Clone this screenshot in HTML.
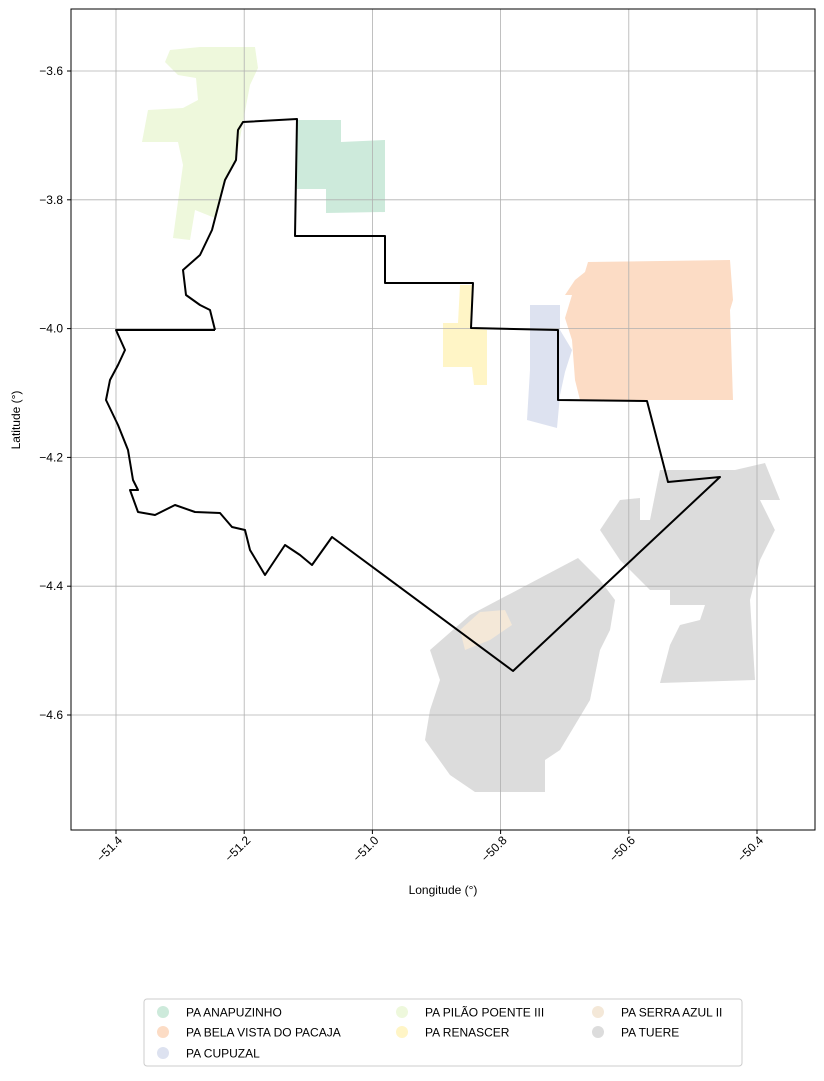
<!DOCTYPE html>
<html><head><meta charset="utf-8"><style>
body{margin:0;background:#fff;font-family:"Liberation Sans","DejaVu Sans",sans-serif}
svg text{font-family:"Liberation Sans","DejaVu Sans",sans-serif;font-size:12px;fill:#000}
</style></head><body>
<svg id="chart" width="824" height="1076" viewBox="0 0 824 1076" xmlns="http://www.w3.org/2000/svg">
<rect x="0" y="0" width="824" height="1076" fill="#fff"/>
<g id="fills"></g><g id="grid"></g><g id="lines"></g>
<rect x="71" y="9" width="744" height="821" fill="none" stroke="#000" stroke-width="1"/>
<g id="ticks"></g>
<text x="443" y="894" text-anchor="middle">Longitude (°)</text>
<text transform="translate(20,420) rotate(-90)" text-anchor="middle">Latitude (°)</text>
<g>
<rect x="144" y="999" width="598" height="67" rx="3" fill="#fff" stroke="#ccc"/>
<g id="legend"></g>
</g>
</svg>
<script>
const xTicks=[-51.4,-51.2,-51.0,-50.8,-50.6,-50.4];
const xTickLabels=["−51.4","−51.2","−51.0","−50.8","−50.6","−50.4"];
const yTicks=[-3.6,-3.8,-4.0,-4.2,-4.4,-4.6];
const yTickLabels=["−3.6","−3.8","−4.0","−4.2","−4.4","−4.6"];
const names=["PA ANAPUZINHO","PA BELA VISTA DO PACAJA","PA CUPUZAL","PA PILÃO POENTE III","PA RENASCER","PA SERRA AZUL II","PA TUERE"];
const colors=["#cdeadb","#fcdcc5","#dde2f0","#eef8dc","#fff5c6","#f4e8d8","#dcdcdc"];
const tuereA=[[-50.9101,-4.499],[-50.8477,-4.4447],[-50.6793,-4.3562],[-50.6449,-4.3904],[-50.6216,-4.4214],[-50.6293,-4.468],[-50.6449,-4.4991],[-50.6605,-4.5767],[-50.7073,-4.6543],[-50.7307,-4.6699],[-50.7307,-4.7196],[-50.8399,-4.7196],[-50.8789,-4.6932],[-50.9179,-4.6388],[-50.9101,-4.5922],[-50.8945,-4.5457]];
const tuereB=[[-50.6449,-4.3127],[-50.6137,-4.2662],[-50.5825,-4.2631],[-50.5825,-4.2972],[-50.5669,-4.2972],[-50.5513,-4.2196],[-50.4343,-4.2196],[-50.3875,-4.2087],[-50.3641,-4.2662],[-50.3953,-4.2662],[-50.372,-4.3127],[-50.3953,-4.3593],[-50.4109,-4.4214],[-50.4031,-4.5457],[-50.5513,-4.5503],[-50.5357,-4.4913],[-50.5201,-4.4602],[-50.4889,-4.4525],[-50.4811,-4.4292],[-50.5357,-4.4292],[-50.5357,-4.4059],[-50.5669,-4.4059],[-50.6137,-4.3593]];
const serraAzul=[[-50.8633,-4.468],[-50.8321,-4.4401],[-50.7932,-4.4369],[-50.7822,-4.4602],[-50.8166,-4.4835],[-50.8556,-4.499]];
const anapuzinho=[[-51.1176,-3.6761],[-51.049,-3.6761],[-51.049,-3.7102],[-50.9803,-3.7071],[-50.9803,-3.8189],[-51.0724,-3.8205],[-51.0724,-3.7832],[-51.1176,-3.7832]];
const pilao=[[-51.3158,-3.5674],[-51.269,-3.5627],[-51.1832,-3.5627],[-51.1785,-3.5953],[-51.191,-3.6217],[-51.2019,-3.6792],[-51.2128,-3.7382],[-51.23,-3.7693],[-51.2456,-3.8283],[-51.2768,-3.8158],[-51.2846,-3.8624],[-51.3111,-3.8593],[-51.2955,-3.746],[-51.3033,-3.7102],[-51.3594,-3.7102],[-51.3501,-3.6606],[-51.2955,-3.6575],[-51.2721,-3.645],[-51.2752,-3.6109],[-51.3033,-3.6062],[-51.3236,-3.586]];
const renascer=[[-50.8633,-3.9323],[-50.8431,-3.9323],[-50.8462,-3.9991],[-50.8212,-4.0022],[-50.8212,-4.0876],[-50.8415,-4.0876],[-50.8446,-4.0596],[-50.8899,-4.0596],[-50.8899,-3.9913],[-50.8665,-3.9913]];
const cupuzal=[[-50.7541,-3.9634],[-50.7074,-3.9634],[-50.7074,-4.0022],[-50.6886,-4.0332],[-50.6995,-4.0674],[-50.7074,-4.1031],[-50.712,-4.1544],[-50.7588,-4.1419],[-50.7541,-4.0643]];
const belaVista=[[-50.6637,-3.8966],[-50.4421,-3.8935],[-50.4374,-3.9556],[-50.4421,-3.9711],[-50.4374,-4.1109],[-50.6761,-4.1109],[-50.6839,-4.0798],[-50.6886,-4.0177],[-50.6995,-3.9835],[-50.6886,-3.9478],[-50.6995,-3.9478],[-50.6839,-3.9245],[-50.6683,-3.9121]];
const boundary=[[-51.2456,-4.0022],[-51.4,-4.0022],[-51.386,-4.0332],[-51.3969,-4.0565],[-51.4094,-4.0798],[-51.4156,-4.1109],[-51.3969,-4.1497],[-51.3813,-4.1885],[-51.3735,-4.2351],[-51.3657,-4.2506],[-51.3782,-4.2506],[-51.3657,-4.2848],[-51.3392,-4.2894],[-51.308,-4.2739],[-51.2768,-4.2848],[-51.2378,-4.2863],[-51.219,-4.3081],[-51.1988,-4.3127],[-51.191,-4.3438],[-51.1676,-4.3826],[-51.1364,-4.336],[-51.1129,-4.3516],[-51.0942,-4.3671],[-51.063,-4.3236],[-50.7807,-4.5317],[-50.4577,-4.2304],[-50.5389,-4.2382],[-50.5716,-4.1124],[-50.7105,-4.1109],[-50.7105,-4.0022],[-50.8462,-3.9991],[-50.8431,-3.9292],[-50.9803,-3.9292],[-50.9803,-3.8562],[-51.1208,-3.8562],[-51.1176,-3.6745],[-51.2019,-3.6792],[-51.2097,-3.6916],[-51.2128,-3.7382],[-51.23,-3.7693],[-51.2502,-3.8469],[-51.269,-3.8857],[-51.2955,-3.909],[-51.2908,-3.9478],[-51.269,-3.9634],[-51.2534,-3.9711],[-51.2456,-4.0022]];

const NS="http://www.w3.org/2000/svg";
function xs(lon){return 116+(lon+51.4)*641;}
function ys(lat){return 71+(-3.6-lat)*644;}
function pts(a){return a.map(p=>xs(p[0]).toFixed(1)+","+ys(p[1]).toFixed(1)).join(" ");}
function mk(tag,attrs,parent){const e=document.createElementNS(NS,tag);for(const k in attrs)e.setAttribute(k,attrs[k]);parent.appendChild(e);return e;}
const fills=document.getElementById('fills');
const polys=[[tuereA,6,'tuere-west'],[tuereB,6,'tuere-east'],[serraAzul,5,'serra-azul-ii'],[anapuzinho,0,'anapuzinho'],[pilao,3,'pilao-poente-iii'],[renascer,4,'renascer'],[cupuzal,2,'cupuzal'],[belaVista,1,'bela-vista-do-pacaja']];
polys.forEach(p=>{
  const e=mk('polygon',{points:pts(p[0]),fill:colors[p[1]]},fills);
  
  
});
const grid=document.getElementById('grid'),ticks=document.getElementById('ticks');
xTicks.forEach((v,i)=>{
  const x=xs(v);
  const g=mk('line',{x1:x,x2:x,y1:9,y2:830,stroke:'#b0b0b0','stroke-width':0.8},grid);
  
  
  mk('line',{x1:x,x2:x,y1:830,y2:834,stroke:'#000'},ticks);
  const t=mk('text',{transform:`translate(${x+7},${841}) rotate(-45)`,'text-anchor':'end'},ticks);
  t.textContent=xTickLabels[i];
  
  
});
yTicks.forEach((v,i)=>{
  const y=ys(v);
  const g=mk('line',{x1:71,x2:815,y1:y,y2:y,stroke:'#b0b0b0','stroke-width':0.8},grid);
  
  
  mk('line',{x1:67,x2:71,y1:y,y2:y,stroke:'#000'},ticks);
  const t=mk('text',{x:63,y:y+4,'text-anchor':'end'},ticks);
  t.textContent=yTickLabels[i];
  
  
});
const b=mk('polyline',{points:pts(boundary),fill:'none',stroke:'#000','stroke-width':2,'stroke-linejoin':'round'},document.getElementById('lines'));


const lg=document.getElementById('legend');
const colX=[163,402,598],rowY=[1012,1032,1053];
const legCol=[0,0,0,1,1,2,2],legRow=[0,1,2,0,1,0,1];
names.forEach((n,i)=>{
  const c=legCol[i],r=legRow[i];
  const g=mk('g',{},lg);
  
  
  mk('circle',{cx:colX[c],cy:rowY[r],r:6,fill:colors[i]},g);
  const t=mk('text',{x:colX[c]+23,y:rowY[r]+4.5},g);
  t.textContent=n;
});
</script>
</body></html>
